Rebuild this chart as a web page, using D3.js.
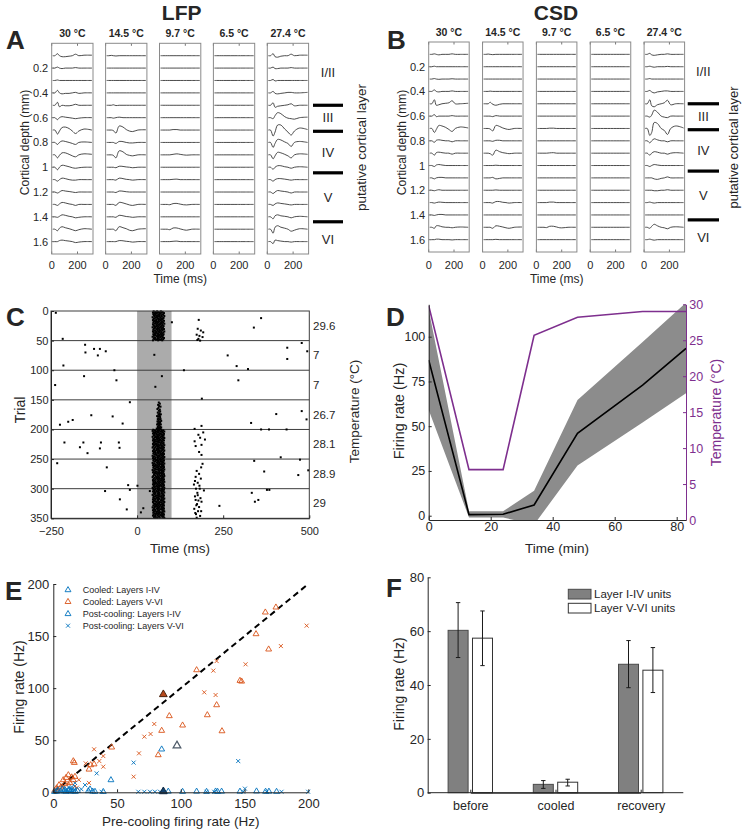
<!DOCTYPE html>
<html><head><meta charset="utf-8">
<script src="https://cdn.jsdelivr.net/npm/d3@7/dist/d3.min.js"></script>
<style>
body{margin:0;background:#fff}
svg{display:block}
text{font-family:"Liberation Sans",Arial,Helvetica,sans-serif;fill:#262626}
</style></head><body>
<svg id="fig" width="742" height="829"></svg>
<script>
const FONT='"Liberation Sans",Arial,Helvetica,sans-serif';
// ================= DATA =================
// Panels A/B
const temps=["30 °C","14.5 °C","9.7 °C","6.5 °C","27.4 °C"];
const depths=[0.1,0.2,0.3,0.4,0.5,0.6,0.7,0.8,0.9,1.0,1.1,1.2,1.3,1.4,1.5,1.6];
const depthTicks=[0.2,0.4,0.6,0.8,1,1.2,1.4,1.6];
const traceTimes=[8,25,45,60,80,105,135,160,185,210,250,312];
const timeTicks=[0,200];
const layerNames=["I/II","III","IV","V","VI"];
const layerLabelDepths=[0.235,0.6,0.88,1.245,1.585];
const layerBounds=[0.5,0.71,1.045,1.44];
// trace deflections (null = flat)
const lfp30=[
[0,0,2,0,-1,-1,-0.5,0,1.5,0,0.5,0.5],[0,0,1,0,-0.5,0,0,0,0.5,0,0,0],[0,0,0.5,0,0,0,0,0,0,0,0,0],
[0,0,2.5,0,-1,-0.5,-0.5,0,0.5,-0.5,0,0],[0,0,3,-1.5,0,-0.5,-0.5,0,1,0,0,0],[0,0,-2,0,1,0.5,0,-0.5,-1,-0.5,0,0],
[0,0,-4,-1,2.5,3,1.5,-1,-3.5,-1,1,0],[0,0,-2,0,1.5,1,0,-1,-2,0,0.5,0],[0,0,-3,-0.5,2,2,0.5,-1,-2,0,1,0.5],
[0,0,-2.5,0,2,1.5,0.5,-0.5,-1,-0.5,0,0],[0,0,-1.5,0,1.5,1,0,-0.5,-0.5,0,0,0],[0,0,-1,0,1.5,1,0.5,0,-0.5,0,0,0],
[0,0,-1,0.5,2,1.5,0.5,0,-1,0,0,0],[0,0,-0.5,0.5,2,1.5,0.5,0,-1,-0.5,0,0],[0,0,-1.5,1,2.5,1.5,0.5,-0.5,-1.5,-0.5,0.5,0],
[0,0,0,1,1.5,1,0.5,0,-1,-0.5,0,0]];
const lfp145=[
[0,0,0.3,0,-0.3,0,0,0,0,0,0,0],null,null,null,[0,0,0,0.5,-0.3,0,0,0,0,0,0,0],[0,0,0,-0.5,0,0.5,0,0,0,0,0,0],
[0,0,0,-0.5,-3,4,3,0.5,-1,-1.5,0,0.3],[0,0,0,0,-1,1,0.8,0,-0.5,-0.5,0,0],[0,0,0,-0.5,-3,4,3,0.5,-0.5,-1,0,0],
[0,0,0,0,-0.5,1,0.8,0.3,0,-0.5,0,0],[0,0,0,0,-0.5,1.5,1,0.3,0,-0.5,0,0],[0,0,0,0,-0.5,1,0.8,0.3,0,0,0,0],
[0,0,0,0,-1,2,1.5,0.5,-0.5,-1,0,0],[0,0,0,0,-0.5,1.5,1,0.3,0,-0.5,0,0],[0,0,0,0,-1.5,2.5,1.5,0.5,-1,-1.5,0,0.5],
[0,0,0,0,0,1,0.8,0.3,0,-0.5,0,0]];
const lfp97=[null,null,null,null,null,null,[0,0,0,0,0,0.5,0.5,0,0,0,0,0],null,[0,0,0,0,0,0.5,1,0.5,0,-0.3,0,0],null,
[0,0,0,0,0,0.3,0.5,0,0,0,0,0],null,[0,0,0,0,-0.3,0.8,1,0.3,-0.3,-0.5,0,0],null,[0,0,0,0,-0.5,1.2,1.2,0.3,-0.5,-1,0,0],
[0,0,0,0,0,0.3,0.5,0,0,0,0,0]];
const lfp65=[null,null,null,null,null,null,null,null,null,null,null,null,null,null,null,null];
const lfp274=[
[0,0,2,-1,-1.5,-0.5,0,0,1.5,0,0.5,0.5],[0,0,1,-0.5,-0.5,0,0,0,0.5,0,0,0],[0,0,1,-0.5,0,0,0,0,0,0,0,0],
[0,0,1.5,-0.5,-1,-0.5,0,0.5,0.5,0,0,0.5],[0,0,2.5,-2,-1,-0.5,0,0.5,1.5,-0.5,0,0],[0,0,-1,2,5,4,1,-0.5,-1,-1.5,0,0.5],
[0,0,-6,-2,5,5,1,-2,-5,-1,2,0.5],[0,0,-5,-1,3,2.5,0.5,-1,-4,0,1,0],[0,0,-4,-1,2.5,2,0.5,-1,-3,0,1,0.5],
[0,0,-2,0,1.5,1.5,0.5,0,-1,0,0.5,0],[0,0,-1.5,0,1,1,0.5,0,-0.5,0,0,0],[0,0,-1.5,0,1.5,1,0.5,0,-1,0,0,0],
[0,0,-1,0.5,1.5,1,0.5,0,-0.5,0,0,0],[0,0,-2,1,2,1,0.5,0,-1,0,0.5,0],[0,0,-4,2,3.5,2,1,0,-2,-1,0.5,0],
[0,0,-2,1.5,1,0.5,0,0,-0.5,0,0,0]];
const csd30=[
[0,0,0.5,0,-0.5,0,0,0,0.5,0,0,0],[0,0,0.5,0,0,0,0,0,0,0,0,0],[0,0,0.5,0,-0.3,0,0,0,0.3,0,0,0],
[0,0,1.5,0,-0.5,0,0,0,0.5,0,0,0],[0,0,4,-1.5,-1,0,0.5,1,3,0,0,0.5],[0,0,1.5,-0.5,0,0,0,0,0.5,0,0,0],
[0,0,-4,-1,3,2.5,1,-1,-3,0,1.5,0.5],[0,0,-1.5,0.5,1,0.5,0,0,-1,0,0,0],[0,0,-2,0.5,1,0.5,0,0,-1,0,0,0],
[0,0,-1,0.5,1,0.5,0,0,0,0,0,0],[0,0,-1,0,0.5,0.5,0,0,0,0,0,0],[0,0,-0.5,0,0.5,0,0,0,0,0,0,0],
[0,0,-0.5,0,0.5,0.3,0,0,0,0,0,0],[0,0,-0.5,0,0.5,0.5,0,0,0,0,0,0],[0,0,-1,1.5,1.5,0.5,0,0,-0.5,0,0.3,0],
[0,0,0,0.5,0.5,0,0,0,-0.3,0,0,0]];
const csd145=[
[0,0,0.3,0,-0.3,0,0,0,0,0,0,0],null,null,[0,0,0,0.3,0,0,0,0,0,0,0,0],[0,0,0,1.5,-0.5,-1.5,-0.5,0,0,0,0,0],
[0,0,0,0,-0.5,0.5,0,0,0,0,0,0],[0,0,0,-0.5,-2.5,3,2,0.5,-0.5,-1,0,0],[0,0,0,0,-0.5,0.5,0.5,0,0,0,0,0],
[0,0,0,-0.5,-2,3,1.5,0.5,0,-0.5,0,0],[0,0,0,0,0,0.3,0,0,0,0,0,0],[0,0,0,0,0.5,-1,-0.5,0,0,0,0,0],
[0,0,0,0,0,0.3,0,0,0,0,0,0],[0,0,0,0,-0.5,1,1,0.3,0,-0.5,0,0],null,[0,0,0,0,-1,1.5,1,0.3,-0.5,-1,0,0.3],
[0,0,0,0,0,0.3,0,0,0,0,0,0]];
const csd97=[null,null,null,null,null,null,[0,0,0,0,0,0.3,0.3,0,0,0,0,0],null,[0,0,0,0,0,0.3,0.5,0,0,0,0,0],null,null,null,
[0,0,0,0,0,0.5,0.5,0,0,0,0,0],null,[0,0,0,0,-0.3,1,1,0.3,-0.5,-0.5,0,0],null];
const csd65=[null,null,null,null,null,null,null,null,null,null,null,null,null,null,null,null];
const csd274=[
[0,0,1,-0.5,-1,-0.5,0,0,0.5,0,0,0],[0,0,0.5,0,-0.5,0,0,0,0.3,0,0,0],[0,0,0.5,0,0,0,0,0,0,0,0,0],
[0,0,1,-0.5,-1.5,-0.5,0,0.5,0.5,0,0,0],[0,0,4,-2,-3,-1,0,1,3.5,-1,0,0],[0,0,-1,1,6,4,0,-1,-1.5,0,0,0],
[0,0,-7,-4,6,5,0,-2,-6,0,2.5,0.5],[0,0,-2,0,2,1,0,0,-1,0,0,0],[0,0,-2,0,1.5,1,0,0,-1,0,0.5,0],
[0,0,-1,0,1,0.5,0,0,0,0,0,0],[0,0,0,0,-1,-1.5,-0.5,0,1,0,0,0],[0,0,0,0,-0.5,-0.5,0,0,0.5,0,0,0],
[0,0,0.5,0,-0.5,0,0,0,0,0,0,0],null,[0,0,-1,1,3,1.5,0,-0.5,-1.5,0,0.5,0],[0,0,0.5,0,-0.5,0,0,0,0,0,0,0]];
const lfpPanels=[lfp30,lfp145,lfp97,lfp65,lfp274];
const csdPanels=[csd30,csd145,csd97,csd65,csd274];

// Panel C (raster)
const trialTicks=[0,50,100,150,200,250,300,350];
const rasterTimeTicks=[-250,0,250,500];
const blockBounds=[50,100,150,200,250,300];
const blockCenters=[25,75,125,175,225,275,325];
const blockTemps=["29.6","7","7","26.7","28.1","28.9","29"];
const stimWindow=[0,100];
const bandStarts=[0,150,200];
const band0="48,58,69 52,63,74 46,60,71 55,66,78 50,57,68 47,62,73 53,65,76 49,59,70 56,64,79 51,61,72 45,58,67 54,68,77 50,60,75 48,63,71 57,66,74 46,55,69 52,62,78 49,64,73 55,59,70 47,61,76 53,67,72 51,58,79 46,63,68 56,65,74 48,60,71 50,57,77 54,62,69 45,66,73 52,59,75 49,61,70 57,64,78 47,58,72 53,68,74 50,60,66 46,63,79 55,65,71 48,57,76 51,62,69 54,59,73 47,66,77 52,61,70 49,64,75 56,58,72 45,62,68 50,67,74 53,60,78 48,63,71 51,59,76 55,65,69 46,61,73";
const band1="- - - - 63 - 66 - 61 - 64 68 - 62 - 59 66 - 63 67 - 60 65 - 62,69 64 - 58,66 61 67 - 63 60,68 65 - 62,70 59 64,67 - 61,66 63 58,69 65 62 - 60,67 64,70 61 57,66 63,68 62";
const band2="47,58,70 52,64,76 45,61,72 55,67,79 49,60,73 53,63,75 46,57,69 51,66,78 56,62,71 48,59,74 50,65,77 54,61,70 45,58,73 52,67,76 57,63,79 47,60,71 49,64,75 53,58,68 46,66,78 51,62,72 55,59,74 48,65,70 50,61,77 54,68,73 46,57,76 52,63,69 49,60,79 56,66,72 47,62,75 53,59,71 45,64,78 51,67,74 57,61,70 48,58,76 50,63,73 55,66,79 46,60,71 52,65,77 49,62,68 54,59,75 47,63,72 53,68,78 50,57,74 56,64,70 45,61,76 51,66,73 48,59,79 54,62,71 46,67,75 52,60,77 49,65,72 55,58,69 47,63,78 53,61,74 50,67,71 57,60,76 45,64,73 51,59,79 48,66,70 54,62,75 46,58,77 52,65,72 49,61,74 56,68,78 47,60,71 53,63,76 50,66,73 55,59,79 45,62,70 51,67,75 48,64,77 54,57,72 46,61,76 52,66,70 57,63,74 49,59,78 50,65,71 53,60,73 47,67,79 55,62,75 45,58,72 51,64,77 56,61,70 48,66,74 53,59,78 46,63,71 50,68,76 54,60,73 47,65,79 52,62,69 49,57,75 55,64,71 46,60,77 51,67,73 57,62,78 48,65,70 53,58,76 50,63,74 45,61,79 54,66,72 47,59,73 52,64,78 49,62,70 56,67,75 46,58,77 51,61,72 54,65,79 48,63,71 53,60,74 50,66,76 45,62,73 55,59,78 48,64,70 52,67,76 57,61,72 47,58,75 50,65,79 54,63,71 46,60,77 51,68,74 49,61,72 53,57,76 46,66,79 56,63,70 48,59,74 52,64,77 50,60,71 55,67,75 47,62,78 51,58,73 54,65,70 45,61,76 50,63,72 57,59,78 48,67,74 52,60,71 46,64,77 53,62,75 49,58,79 56,66,73 47,63,70 51,60,76 55,65,72 48,61,78 53,68,74 46,59,71 50,64,77 54,62,73 49,66,75 52,58,79";
const sparseSpikes=[[-236,3],[-216,47],[101,19],[339,28],[360,12],
[176,30],[185,33],[192,36],[173,40],[181,42],[190,44],[178,47],[175,49],[183,50],[179,15],
[-151,57],[-125,64],[-108,64],[-91,68],[-150,70],[-114,75],[-214,92],[50,74],[263,75],[289,93],[322,98],[436,62],[478,54],[494,68],[436,81],
[-238,125],[-154,110],[-66,100],[-60,117],[72,110],[53,128],[136,100],[294,117],[188,148],
[-21,154],[-133,176],[-71,178],[-187,184],[-200,187],[-224,192],[-42,190],[404,174],[331,189],[478,169],[492,183],[360,200],[383,200],[434,200],[167,199],[187,194],
[-211,222],[-156,222],[-166,230],[-144,240],[-108,232],[-105,222],[-53,222],[-51,231],
[178,209],[192,205],[183,214],[167,220],[197,217],[170,228],[187,226],[180,238],[187,243],
[417,247],[473,251],[340,253],[-232,257],[-88,264],[-26,294],[-21,302],[1,295],[369,271],[468,277],[497,269],
[190,258],[186,264],[173,270],[180,275],[170,280],[185,283],[168,287],[176,290],[165,293],[181,295],[171,300],[194,303],[175,307],[168,313],[184,316],[170,319],[187,322],[174,326],[180,331],[166,334],[177,338],[171,343],[183,346],[173,349],[178,320],[172,328],[169,341],[176,311],[186,338],[182,300],
[-93,304],[-50,318],[-30,335],[11,340],[18,333],[37,304],[239,329],[333,307],[342,322],[352,319],[377,302],[384,302]];

// Panel D
const sessTime=[0,13,24,34,48,69,83];
const rateMean=[87,0.6,0.8,6,46,73,93.5];
const rateUpper=[115,2.5,2.5,14,64.6,97,119];
const rateLower=[59,-1,-1,-5,28,52,68.4];
const tempC=[29.8,7,7,25.7,28.2,29,29];
const dRateTicks=[0,25,50,75,100];
const dTempTicks=[0,5,10,15,20,25,30];
const dTimeTicks=[0,20,40,60,80];

// Panel E
const eTicks=[0,50,100,150,200];
const cooledI_IV=[[2.6,0.8],[5.8,1],[8.4,1.2],[10,0.6],[11.8,1.5],[13.6,0.8],[15.7,1],[17.3,0.6],[27.5,1.2],[28.8,2.9],[30.9,0.8],[32.7,0.6],[39.2,0.5],[45.2,11.8],[85,41.3],[90.2,0.8],[101.4,0.6],[112.4,0.8],[120.2,0.6],[127.3,0.9],[128.9,0.6],[132,0.8],[146.4,0.8],[159.4,1],[166.5,0.7],[169.1,0.8],[175.1,0.6],[1,0.5],[3.5,2],[7,3],[9,2.5],[12.5,2],[16,4],[19,1.5],[14,2.5]];
const cooledV_VI=[[174.6,177.6],[166.3,172.8],[159,152],[168.9,137.3],[112.4,117.4],[146.4,107.2],[147.7,106.5],[128.1,83.8],[91,73.3],[120.8,74.2],[101.4,64.3],[85,59.2],[132.3,58.8],[45.8,43.2],[82.3,35.8],[15.7,30],[16.5,28.4],[29.3,26.2],[32,27],[28,22],[11.8,16.6],[10,14],[7.8,11.8],[4.5,7],[2.6,4],[15.7,11.8],[14.4,14.5],[1,1.5],[3,2],[6,5],[9,8],[13,9],[17,15]];
const postI_IV=[[145,30],[63,28.5],[34,18.2],[24.9,7],[17,9],[150.3,3.5],[66.7,0.5],[71.4,0.5],[75.8,0.5],[79.7,0.5],[83.7,0.5],[120.2,0.5],[126.2,0.5],[149,0.5],[167.3,0.5],[179,0.5],[199.9,0.5],[37.9,0.5],[22,3],[12,5]];
const postV_VI=[[198.7,160],[178.5,140.4],[150.8,122.9],[128.1,126],[125.5,116.8],[118.4,96],[127.3,93.4],[79.2,65.6],[76.3,56],[71.4,53.4],[67.2,37.4],[63,15],[32,41.3],[39.2,34.8],[39.2,24.6],[25.4,27.8],[36.1,30],[17,6],[18.5,4.4],[5,3],[8,6],[12,9],[20,12],[28,9]];
const exampleV_VI=[86.3,94];
const exampleI_IV=[86.3,0.8];
const overlapPoint=[97,44.8];
const eLegend=["Cooled: Layers I-IV","Cooled: Layers V-VI","Post-cooling: Layers I-IV","Post-cooling: Layers V-VI"];

// Panel F
const fCats=["before","cooled","recovery"];
const fSeries=["Layer I-IV units","Layer V-VI units"];
const fI_IV=[60.3,3.1,47.7];
const fI_IVerr=[[50.2,70.6],[1.6,4.5],[39,56.5]];
const fV_VI=[57.4,3.9,45.5];
const fV_VIerr=[[47.2,67.5],[2.5,5.0],[37.2,53.9]];
const fTicks=[0,20,40,60,80];

// ================= DRAW =================
const svg=d3.select("#fig");
const BLUE="#0072BD",ORANGE="#D95319",PURPLE="#7E2F8E";
function label(x,y,s,o={}){
  const t=svg.append("text").attr("x",x).attr("y",y).text(s)
    .attr("font-size",o.size||12).attr("text-anchor",o.anchor||"middle");
  if(o.bold)t.attr("font-weight","bold");
  if(o.rotate)t.attr("transform",`rotate(${o.rotate},${x},${y})`);
  if(o.fill)t.style("fill",o.fill);
  if(o.mid)t.attr("dominant-baseline","central");
  return t;
}
function axis(gen,tx,ty,size,color){
  const g=svg.append("g").attr("transform",`translate(${tx},${ty})`).call(gen);
  g.attr("font-size",size).attr("font-family",FONT).attr("color",color||"#262626");
  g.selectAll("text").style("fill",color||"#262626");
  return g;
}

// ---- A / B ----
function laminar(cfg){
  const y=d3.scaleLinear().domain([0,1.7]).range([cfg.top,cfg.bottom]);
  cfg.data.forEach((traces,i)=>{
    const x0=cfg.left+i*cfg.step;
    const x=d3.scaleLinear().domain([0,320]).range([x0,x0+cfg.w]);
    const g=svg.append("g");
    timeTicks.forEach(v=>{
      g.append("line").attr("x1",x(v)).attr("x2",x(v)).attr("y1",cfg.top).attr("y2",cfg.top+2.5).attr("stroke","#777");
      g.append("line").attr("x1",x(v)).attr("x2",x(v)).attr("y1",cfg.bottom).attr("y2",cfg.bottom-2.5).attr("stroke","#777");
    });
    const line=d3.line().x((v,k)=>x(traceTimes[k])).curve(d3.curveCatmullRom);
    traces.forEach((tr,j)=>{
      const vals=tr||traceTimes.map(()=>0);
      line.y(v=>y(depths[j])-v);
      g.append("path").attr("d",line(vals)).attr("fill","none").attr("stroke","#383838").attr("stroke-width",0.9);
    });
    g.append("rect").attr("x",x0).attr("y",cfg.top).attr("width",cfg.w).attr("height",cfg.bottom-cfg.top)
      .attr("fill","none").attr("stroke","#8a8a8a").attr("stroke-width",1);
    label(x0+cfg.w/2,cfg.titleY,temps[i],{bold:true,size:10.5});
    timeTicks.forEach(v=>label(x(v),269,String(v),{size:11}));
    if(i===0){
      depthTicks.forEach(d=>{
        g.append("line").attr("x1",x0).attr("x2",x0+2.5).attr("y1",y(d)).attr("y2",y(d)).attr("stroke","#777");
        label(x0-3.5,y(d),String(d),{size:11,anchor:"end",mid:true});
      });
    }
  });
  label(cfg.ylabX,cfg.ylabY,"Cortical depth (mm)",{size:12,rotate:-90,mid:true});
  label(cfg.left+2*cfg.step+cfg.w/2,283,"Time (ms)",{size:12});
  layerBounds.forEach(b=>svg.append("line").attr("x1",cfg.barX[0]).attr("x2",cfg.barX[1]).attr("y1",y(b)).attr("y2",y(b)).attr("stroke","#000").attr("stroke-width",3.2));
  layerNames.forEach((n,k)=>label((cfg.barX[0]+cfg.barX[1])/2,y(layerLabelDepths[k]),n,{size:13,mid:true}));
  label(cfg.layX,147.5,"putative cortical layer",{size:cfg.laySize,rotate:-90,mid:true});
  label(cfg.titleX,20,cfg.title,{size:21,bold:true});
  label(cfg.letterX,49,cfg.letter,{size:26,bold:true,anchor:"start"});
}
laminar({data:lfpPanels,left:51.7,step:53.9,w:41.3,top:43.3,bottom:254,titleY:36.7,ylabX:25,ylabY:142.5,
  barX:[313,343],layX:361.5,laySize:13.5,titleX:181.7,title:"LFP",letter:"A",letterX:6});
laminar({data:csdPanels,left:428.7,step:53.85,w:40.5,top:42,bottom:252,titleY:36,ylabX:402,ylabY:142.5,
  barX:[687.7,719],layX:733.5,laySize:13,titleX:556,title:"CSD",letter:"B",letterX:387});

// ---- C ----
(function(){
  const x=d3.scaleLinear().domain([-250,500]).range([51,309.3]);
  const y=d3.scaleLinear().domain([0,350]).range([311,518.3]);
  const g=svg.append("g");
  g.append("rect").attr("x",x(stimWindow[0])).attr("y",y(0)).attr("width",x(stimWindow[1])-x(stimWindow[0])).attr("height",y(350)-y(0)).attr("fill","#ababab");
  blockBounds.forEach(b=>g.append("line").attr("x1",x(-250)).attr("x2",x(500)).attr("y1",y(b)).attr("y2",y(b)).attr("stroke","#3c3c3c").attr("stroke-width",1));
  const spikes=sparseSpikes.slice();
  [band0,band1,band2].forEach((s,bi)=>{
    s.split(" ").forEach((tr,k)=>{ if(tr==="-")return; tr.split(",").forEach(t=>spikes.push([+t,bandStarts[bi]+k+0.5])); });
  });
  g.selectAll("rect.sp").data(spikes).enter().append("rect").attr("class","sp")
    .attr("x",d=>x(d[0])-1).attr("y",d=>y(d[1])-1).attr("width",2).attr("height",2).attr("fill","#000");
  g.append("rect").attr("x",x(-250)).attr("y",y(0)).attr("width",x(500)-x(-250)).attr("height",y(350)-y(0)).attr("fill","none").attr("stroke","#3c3c3c");
  axis(d3.axisLeft(y).tickValues(trialTicks).tickSize(-3).tickSizeOuter(0).tickPadding(2.5),51,0,11);
  axis(d3.axisBottom(x).tickValues(rasterTimeTicks).tickSize(-3).tickSizeOuter(0).tickPadding(8.5),0,518.3,11);
  blockTemps.forEach((t,k)=>label(313,y(blockCenters[k]),t,{size:11.5,anchor:"start",mid:true}));
  label(19.5,410,"Trial",{size:14,rotate:-90,mid:true});
  label(354,411.5,"Temperature (°C)",{size:13.5,rotate:-90,mid:true});
  label(180,553,"Time (ms)",{size:13.5});
  label(6,326,"C",{size:26,bold:true,anchor:"start"});
})();

// ---- D ----
(function(){
  const x=d3.scaleLinear().domain([0,83]).range([428.7,686]);
  const yL=d3.scaleLinear().domain([-2.4,118.1]).range([520,304.3]);
  const yR=d3.scaleLinear().domain([0,30]).range([520,304.3]);
  svg.append("clipPath").attr("id","dclip").append("rect").attr("x",428.7).attr("y",304.3).attr("width",686-428.7).attr("height",520-304.3);
  const g=svg.append("g").attr("clip-path","url(#dclip)");
  const area=d3.area().x((d,i)=>x(sessTime[i])).y0((d,i)=>yL(rateLower[i])).y1((d,i)=>yL(rateUpper[i]));
  g.append("path").attr("d",area(sessTime)).attr("fill","#8c8c8c");
  g.append("path").attr("d",d3.line().x((d,i)=>x(sessTime[i])).y(d=>yL(d))(rateMean)).attr("fill","none").attr("stroke","#000").attr("stroke-width",1.6);
  g.append("path").attr("d",d3.line().x((d,i)=>x(sessTime[i])).y(d=>yR(d))(tempC)).attr("fill","none").attr("stroke",PURPLE).attr("stroke-width",1.6);
  axis(d3.axisLeft(yL).tickValues(dRateTicks).tickSize(-3).tickSizeOuter(0).tickPadding(3.4),428.7,0,12.5);
  axis(d3.axisRight(yR).tickValues(dTempTicks).tickSize(-3).tickSizeOuter(0).tickPadding(3.3),686,0,12.5,PURPLE);
  axis(d3.axisBottom(x).tickValues(dTimeTicks).tickSize(-3).tickSizeOuter(0).tickPadding(1.8),0,520,12.5);
  label(399.3,411,"Firing rate (Hz)",{size:14.5,rotate:-90,mid:true});
  label(716,412.5,"Temperature (°C)",{size:14,rotate:-90,mid:true,fill:PURPLE});
  label(557,553,"Time (min)",{size:13.5});
  label(386,326,"D",{size:26,bold:true,anchor:"start"});
})();

// ---- E ----
(function(){
  const x=d3.scaleLinear().domain([0,200]).range([53.3,308.3]);
  const y=d3.scaleLinear().domain([0,200]).range([792.3,584]);
  const tri=d3.symbol().type(d3.symbolTriangle).size(15);
  const triBig=d3.symbol().type(d3.symbolTriangle).size(26);
  const cross="M-2,-2L2,2M-2,2L2,-2";
  const g=svg.append("g");
  g.append("line").attr("x1",x(0)).attr("y1",y(0)).attr("x2",x(200)).attr("y2",y(200)).attr("stroke","#000").attr("stroke-width",2).attr("stroke-dasharray","6,4");
  function tris(data,color){g.selectAll(null).data(data).enter().append("path").attr("d",tri()).attr("transform",d=>`translate(${x(d[0])},${y(d[1])})`).attr("fill","none").attr("stroke",color).attr("stroke-width",0.9);}
  function crosses(data,color){g.selectAll(null).data(data).enter().append("path").attr("d",cross).attr("transform",d=>`translate(${x(d[0])},${y(d[1])})`).attr("fill","none").attr("stroke",color).attr("stroke-width",0.9);}
  crosses(postV_VI,ORANGE);
  crosses(postI_IV,BLUE);
  tris(cooledV_VI,ORANGE);
  tris(cooledI_IV,BLUE);
  g.append("path").attr("d",triBig()).attr("transform",`translate(${x(overlapPoint[0])},${y(overlapPoint[1])})`).attr("fill","none").attr("stroke","#4d5a68").attr("stroke-width",1.2);
  g.append("path").attr("d",triBig()).attr("transform",`translate(${x(exampleV_VI[0])},${y(exampleV_VI[1])})`).attr("fill","#B8491C").attr("stroke","#4a2410").attr("stroke-width",1);
  g.append("path").attr("d",triBig()).attr("transform",`translate(${x(exampleI_IV[0])},${y(exampleI_IV[1])})`).attr("fill","#12416e").attr("stroke","#0a2540").attr("stroke-width",1);
  axis(d3.axisLeft(y).tickValues(eTicks).tickSize(-3).tickSizeOuter(0).tickPadding(4),53.3,0,13);
  axis(d3.axisBottom(x).tickValues(eTicks).tickSize(-3).tickSizeOuter(0).tickPadding(6.5),0,792.3,13);
  const ly=[590,601.8,613.9,625.7];
  const lm=[["tri",BLUE],["tri",ORANGE],["tri",BLUE],["x",BLUE]];
  eLegend.forEach((s,k)=>{
    const p=svg.append("path").attr("transform",`translate(68,${ly[k]})`).attr("fill","none").attr("stroke",lm[k][1]).attr("stroke-width",0.9);
    p.attr("d",lm[k][0]==="tri"?tri():cross);
    label(82.7,ly[k],s,{size:9,anchor:"start",mid:true});
  });
  label(19,687,"Firing rate (Hz)",{size:14,rotate:-90,mid:true});
  label(180.8,826,"Pre-cooling firing rate (Hz)",{size:13.5});
  label(5,600,"E",{size:26,bold:true,anchor:"start"});
})();

// ---- F ----
(function(){
  const x0=d3.scaleBand().domain(fCats).range([427.7,683.3]).paddingInner(0.479).paddingOuter(0.2395);
  const x1=d3.scaleBand().domain(fSeries).range([0,x0.bandwidth()]).paddingInner(0.18);
  const y=d3.scaleLinear().domain([0,80]).range([792.7,577.3]);
  const series=[{name:fSeries[0],vals:fI_IV,err:fI_IVerr,fill:"#808080",stroke:"#4a4a4a"},
                {name:fSeries[1],vals:fV_VI,err:fV_VIerr,fill:"#ffffff",stroke:"#333"}];
  const g=svg.append("g");
  series.forEach(s=>{
    fCats.forEach((c,i)=>{
      const bx=x0(c)+x1(s.name),bw=x1.bandwidth();
      g.append("rect").attr("x",bx).attr("y",y(s.vals[i])).attr("width",bw).attr("height",y(0)-y(s.vals[i])).attr("fill",s.fill).attr("stroke",s.stroke).attr("stroke-width",1);
      const cx=bx+bw/2;
      g.append("line").attr("x1",cx).attr("x2",cx).attr("y1",y(s.err[i][0])).attr("y2",y(s.err[i][1])).attr("stroke","#1a1a1a");
      s.err[i].forEach(e=>g.append("line").attr("x1",cx-2.2).attr("x2",cx+2.2).attr("y1",y(e)).attr("y2",y(e)).attr("stroke","#1a1a1a"));
    });
  });
  axis(d3.axisLeft(y).tickValues(fTicks).tickSize(-3).tickSizeOuter(0).tickPadding(3.4),427.7,0,13);
  const xa=d3.scaleOrdinal().domain(fCats).range(fCats.map(c=>x0(c)+x0.bandwidth()/2));
  axis(d3.axisBottom(xa).tickSize(-3).tickSizeOuter(0).tickPadding(8.6),0,792.7,12.5);
  svg.append("line").attr("x1",427.7).attr("x2",683.3).attr("y1",792.7).attr("y2",792.7).attr("stroke","#262626");
  const lgY=[589.3,603.3];
  series.forEach((s,k)=>{
    svg.append("rect").attr("x",568.3).attr("y",lgY[k]).attr("width",22.7).attr("height",9.7).attr("fill",s.fill).attr("stroke",s.stroke);
    label(594,lgY[k]+5,s.name,{size:11.5,anchor:"start",mid:true});
  });
  label(399,684,"Firing rate (Hz)",{size:14,rotate:-90,mid:true});
  label(386,597,"F",{size:26,bold:true,anchor:"start"});
})();
</script></body></html>
